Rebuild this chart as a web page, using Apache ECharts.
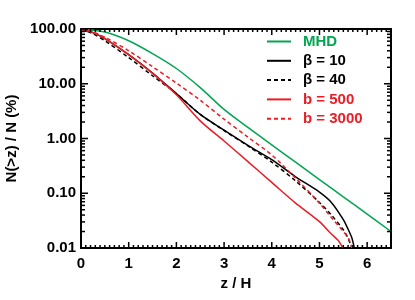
<!DOCTYPE html>
<html>
<head>
<meta charset="utf-8">
<script src="https://cdn.jsdelivr.net/npm/echarts@6/dist/echarts.min.js"></script>
<style>html,body{margin:0;padding:0;background:#fff}#c{width:415px;height:300px}</style>
</head>
<body>
<div id="c"></div>
<script>
// ---- data ----
const seriesNames = ['MHD', 'β = 10', 'β = 40', 'b = 500', 'b = 3000'];

const zMHD = [0, 0.5, 1.0, 1.5, 2.0, 2.5, 3.0, 3.5, 4.0, 4.5, 5.0, 5.5, 6.0, 6.5];
const nMHD = [100, 88, 61, 35.5, 19, 8.5, 3.4, 1.59, 0.766, 0.369, 0.178, 0.0859, 0.0417, 0.020];

const zBeta10 = [0, 0.25, 0.5, 1.0, 1.5, 2.0, 2.5, 3.0, 3.5, 4.0, 4.5, 5.0, 5.25, 5.5, 5.6, 5.68, 5.73];
const nBeta10 = [100, 86, 67, 34, 15.7, 6.6, 2.75, 1.42, 0.75, 0.41, 0.20, 0.105, 0.068, 0.033, 0.022, 0.0152, 0.01];

const zBeta40 = [0, 0.25, 0.5, 1.0, 1.5, 2.0, 2.5, 3.0, 3.5, 4.0, 4.5, 5.0, 5.25, 5.5, 5.6, 5.68];
const nBeta40 = [100, 82, 61, 30, 14, 6.6, 2.75, 1.40, 0.73, 0.37, 0.168, 0.068, 0.040, 0.0215, 0.0150, 0.01];

const zB500 = [0, 0.25, 0.5, 1.0, 1.5, 2.0, 2.5, 3.0, 3.5, 4.0, 4.5, 5.0, 5.25, 5.4, 5.49];
const nB500 = [100, 86, 67, 34, 15.5, 6.3, 2.1, 0.90, 0.378, 0.158, 0.066, 0.0303, 0.018, 0.0135, 0.01];

const zB3000 = [0, 0.25, 0.5, 1.0, 1.5, 2.0, 2.5, 3.0, 3.5, 4.0, 4.5, 5.0, 5.25, 5.5, 5.61, 5.68];
const nB3000 = [100, 88, 71, 40, 20.5, 10.3, 5.0, 2.25, 1.06, 0.50, 0.188, 0.066, 0.036, 0.020, 0.015, 0.01];

const yTicks = [0.01, 0.1, 1, 10, 100];
const yTickLabels = ['0.01', '0.10', '1.00', '10.00', '100.00'];

// ---- styling ----
const GREEN = '#00a651';
const RED = '#ed1c24';
const BLACK = '#000000';
const FONT = '"Liberation Sans", Arial, Helvetica, sans-serif';
const X_MIN = 0, X_MAX = 6.5;

const yMinor = [];
[0.01, 0.1, 1, 10].forEach(d => { for (let k = 2; k <= 9; k++) yMinor.push(+(d * k).toPrecision(3)); });
const xMinor = [];
for (let i = 1; i < 65; i++) { if (i % 10 !== 0) xMinor.push(i / 10); }

function pairs(z, n) { return z.map((v, i) => [v, n[i]]); }

function xAxisDef(pos, labels) {
  return {
    type: 'value', position: pos, min: X_MIN, max: X_MAX, interval: 1,
    axisLine: { show: true, onZero: false, lineStyle: { color: BLACK, width: 2 } },
    splitLine: { show: false },
    axisTick: { show: false },
    axisLabel: { show: labels, showMaxLabel: false, color: BLACK, fontFamily: FONT, fontWeight: 'bold', fontSize: 15, margin: 8 },
    name: labels ? 'z / H' : '', nameLocation: 'middle', nameGap: 28,
    nameTextStyle: { color: BLACK, fontFamily: FONT, fontWeight: 'bold', fontSize: 15 }
  };
}
function yAxisDef(pos, labels) {
  return {
    type: 'log', logBase: 10, position: pos, min: 0.01, max: 100,
    axisLine: { show: true, onZero: false, lineStyle: { color: BLACK, width: 2 } },
    splitLine: { show: false },
    axisTick: { show: false },
    axisLabel: { show: labels, color: BLACK, fontFamily: FONT, fontWeight: 'bold', fontSize: 15, margin: 5,
      formatter: v => {
        const i = yTicks.findIndex(t => Math.abs(Math.log10(t) - Math.log10(v)) < 1e-6);
        return i >= 0 ? yTickLabels[i] : '';
      } },
    name: labels ? 'N(>z) / N (%)' : '', nameLocation: 'middle', nameGap: 62,
    nameTextStyle: { color: BLACK, fontFamily: FONT, fontWeight: 'bold', fontSize: 15 }
  };
}

function lineSeries(name, z, n, color, dashed) {
  return {
    name, type: 'line', xAxisIndex: 0, yAxisIndex: 0,
    data: pairs(z, n), showSymbol: false, symbol: 'none',
    smooth: 0.3,
    lineStyle: { color, width: 1.5, type: dashed ? [4, 3] : 'solid' },
    itemStyle: { color }, z: 3
  };
}

// frame ticks (major + minor) drawn through the axis scales
const tickItems = [];
[0, 1, 2, 3, 4, 5, 6].forEach(v => tickItems.push([0, v, 6]));
xMinor.forEach(v => tickItems.push([0, v, 3]));
yTicks.forEach(v => tickItems.push([1, v, 7]));
yMinor.forEach(v => tickItems.push([1, v, 4]));

const tickSeries = {
  type: 'custom', xAxisIndex: 0, yAxisIndex: 0, silent: true, clip: false, z: 10,
  data: tickItems,
  renderItem: (params, api) => {
    const kind = api.value(0), v = api.value(1), len = api.value(2);
    const st = { stroke: BLACK, lineWidth: 1.5 };
    if (kind === 0) {
      const pb = api.coord([v, 0.01]);
      const pt = api.coord([v, 100]);
      return { type: 'group', children: [
        { type: 'line', shape: { x1: pb[0], y1: pb[1], x2: pb[0], y2: pb[1] - len }, style: st },
        { type: 'line', shape: { x1: pt[0], y1: pt[1], x2: pt[0], y2: pt[1] + len }, style: st }
      ] };
    }
    const pl = api.coord([X_MIN, v]);
    const pr = api.coord([X_MAX, v]);
    return { type: 'group', children: [
      { type: 'line', shape: { x1: pl[0], y1: pl[1], x2: pl[0] + len, y2: pl[1] }, style: st },
      { type: 'line', shape: { x1: pr[0], y1: pr[1], x2: pr[0] - len, y2: pr[1] }, style: st }
    ] };
  }
};

const chart = echarts.init(document.getElementById('c'), null, { renderer: 'canvas' });
chart.setOption({
  animation: false,
  backgroundColor: '#fff',
  grid: { left: 81, right: 24, top: 29, bottom: 52, containLabel: false, outerBoundsMode: 'none' },
  xAxis: [xAxisDef('bottom', true), xAxisDef('top', false)],
  yAxis: [yAxisDef('left', true), yAxisDef('right', false)],
  legend: {
    orient: 'vertical', left: 261, top: 29, itemWidth: 24, itemHeight: 14, itemGap: 4.3,
    itemStyle: { opacity: 0 },
    textStyle: { fontFamily: FONT, fontWeight: 'bold', fontSize: 15, padding: [0, 0, 0, 7] },
    data: [
      { name: seriesNames[0], textStyle: { color: GREEN } },
      { name: seriesNames[1], textStyle: { color: BLACK } },
      { name: seriesNames[2], textStyle: { color: BLACK } },
      { name: seriesNames[3], textStyle: { color: RED } },
      { name: seriesNames[4], textStyle: { color: RED } }
    ]
  },
  series: [
    lineSeries(seriesNames[0], zMHD, nMHD, GREEN, false),
    lineSeries(seriesNames[1], zBeta10, nBeta10, BLACK, false),
    lineSeries(seriesNames[2], zBeta40, nBeta40, BLACK, true),
    lineSeries(seriesNames[3], zB500, nB500, RED, false),
    lineSeries(seriesNames[4], zB3000, nB3000, RED, true),
    tickSeries
  ]
});
</script>
</body>
</html>
